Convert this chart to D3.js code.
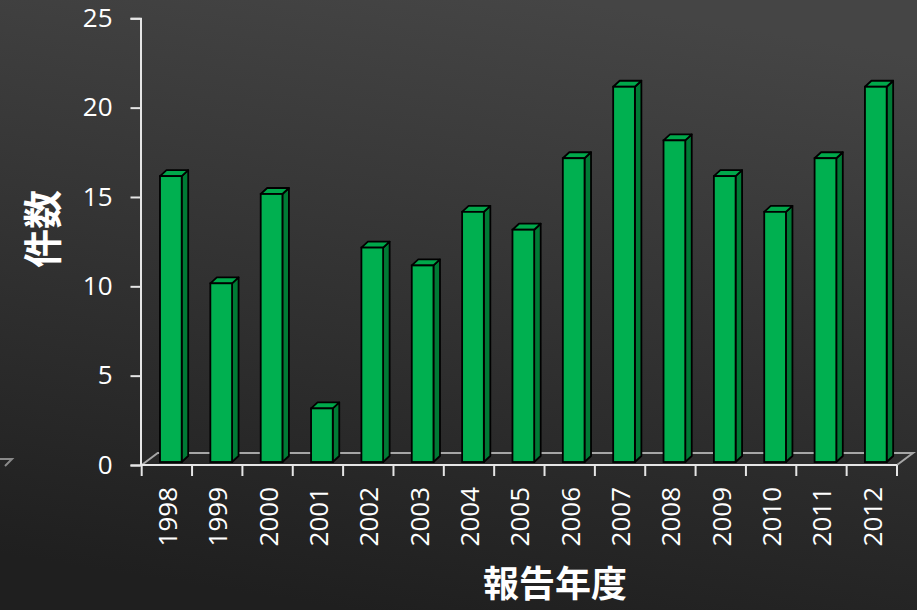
<!DOCTYPE html>
<html><head><meta charset="utf-8">
<script src="https://cdn.jsdelivr.net/npm/d3@7"></script>
<style>
html,body{margin:0;padding:0;background:#2a2a2a;}
svg{display:block;}
</style></head>
<body>
<svg id="c" width="917" height="610"></svg>
<script>
const years = ["1998","1999","2000","2001","2002","2003","2004","2005","2006","2007","2008","2009","2010","2011","2012"];
const counts = [16,10,15,3,12,11,14,13,17,21,18,16,14,17,21];
const yTicks = [0,5,10,15,20,25];
const yTitle = "件数";
const xTitle = "報告年度";

const W = 917, H = 610;
const svg = d3.select("#c");
const defs = svg.append("defs");
const g = defs.append("linearGradient").attr("id","bg")
  .attr("x1","0.62").attr("y1","0").attr("x2","0.38").attr("y2","1");
g.append("stop").attr("offset","0").attr("stop-color","#454545");
g.append("stop").attr("offset","1").attr("stop-color","#1f1f1f");
svg.append("rect").attr("width",W).attr("height",H).attr("fill","url(#bg)");

const x = d3.scaleBand().domain(years).range([141.7, 897]).padding(0);
const y = d3.scaleLinear().domain([0,25]).range([465, 18.3]);
const bw = x.bandwidth();

// floor
const fdx = 16, fdy = 12;
svg.append("path")
  .attr("d", `M${x.range()[0]},${y(0)} L${x.range()[0]+fdx},${y(0)-fdy} L${x.range()[1]+fdx},${y(0)-fdy} L${x.range()[1]},${y(0)}`)
  .attr("fill","none").attr("stroke","#a6a6a6").attr("stroke-width",2);
svg.append("path").attr("d","M0,459 L12,459 L5,466")
  .attr("fill","none").attr("stroke","#8a8a8a").attr("stroke-width",2);

// axes
const yAxis = svg.append("g").attr("transform","translate(140.5,0)")
  .call(d3.axisLeft(y).tickValues(yTicks).tickSize(10).tickPadding(18));
yAxis.select(".domain").attr("stroke","#e6e6e6").attr("stroke-width",2);
yAxis.selectAll(".tick line").attr("stroke","#e6e6e6").attr("stroke-width",2);
yAxis.selectAll(".tick text").attr("fill","#fff")
  .style("font-family","'Open Sans', sans-serif").style("font-size","26px");

svg.append("line").attr("x1",x.range()[0]).attr("x2",x.range()[1])
  .attr("y1",y(0)).attr("y2",y(0)).attr("stroke","#e6e6e6").attr("stroke-width",2);
const bounds = years.map(d=>x(d)).concat([x.range()[1]]);
svg.selectAll(".xt").data(bounds).join("line")
  .attr("x1",d=>d).attr("x2",d=>d).attr("y1",y(0)).attr("y2",y(0)+11)
  .attr("stroke","#e6e6e6").attr("stroke-width",2);

svg.selectAll(".xl").data(years).join("text")
  .attr("transform",d=>`translate(${x(d)+bw/2},487) rotate(-90)`)
  .attr("text-anchor","end").attr("dominant-baseline","central")
  .attr("fill","#fff").style("font-family","'Open Sans', sans-serif").style("font-size","26px")
  .text(d=>d);

// bars
const off = 18.3, fw = 21.7, ddx = 6.5, ddy = 6, lift = 3;
const bars = svg.selectAll(".bar").data(years.map((d,i)=>({yr:d,v:counts[i]}))).join("g");
bars.each(function(d){
  const gg = d3.select(this);
  const x0 = x(d.yr)+off, x1 = x0+fw;
  const yb = y(0)-lift, yt = y(d.v)-lift;
  gg.append("path").attr("d",`M${x1},${yb} L${x1+ddx},${yb-ddy} L${x1+ddx},${yt-ddy} L${x1},${yt} Z`)
    .attr("fill","#007a35").attr("stroke","#000").attr("stroke-width",1.8).attr("stroke-linejoin","round");
  gg.append("path").attr("d",`M${x0},${yt} L${x0+ddx},${yt-ddy} L${x1+ddx},${yt-ddy} L${x1},${yt} Z`)
    .attr("fill","#00a84b").attr("stroke","#000").attr("stroke-width",1.8).attr("stroke-linejoin","round");
  gg.append("rect").attr("x",x0).attr("y",yt).attr("width",fw).attr("height",yb-yt)
    .attr("fill","#00b050").attr("stroke","#000").attr("stroke-width",1.8);
});

// titles
svg.append("text").attr("transform","translate(57,229) rotate(-90)")
  .attr("text-anchor","middle")
  .attr("fill","#fff").style("font-family","'Noto Sans CJK JP', sans-serif")
  .style("font-weight","bold").style("font-size","39px").text(yTitle);
svg.append("text").attr("x",555).attr("y",597)
  .attr("text-anchor","middle")
  .attr("fill","#fff").style("font-family","'Noto Sans CJK JP', sans-serif")
  .style("font-weight","bold").style("font-size","36px").text(xTitle);
</script>
</body></html>
